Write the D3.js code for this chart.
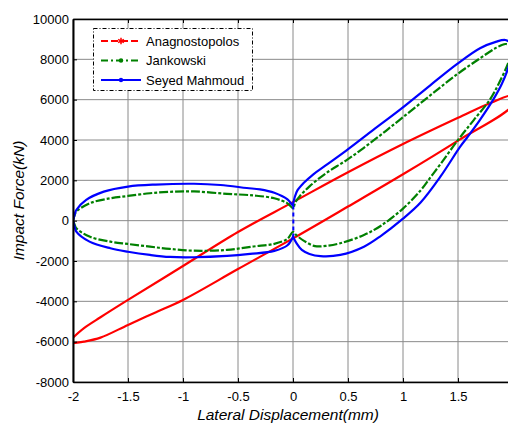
<!DOCTYPE html>
<html>
<head>
<meta charset="utf-8">
<script src="https://cdn.jsdelivr.net/npm/d3@7"></script>
<style>
  body { margin: 0; background: #fff; }
  svg { display: block; font-family: "Liberation Sans", Arial, sans-serif; }
</style>
</head>
<body>
<svg id="chart"></svg>
<script>
// tick values (the label for 2 falls outside the picture)
const xTicks = [-2, -1.5, -1, -0.5, 0, 0.5, 1, 1.5, 2];
const xTickLabels = ["-2", "-1.5", "-1", "-0.5", "0", "0.5", "1", "1.5", ""];
const yTicks = [-8000, -6000, -4000, -2000, 0, 2000, 4000, 6000, 8000, 10000];
const seriesNames = ["Anagnostopolos", "Jankowski", "Seyed Mahmoud"];

// Anagnostopolos: upper and lower branch, both read left to right
const anagUpper = [[-2,-5800],[-1.9,-5330],[-1.75,-4790],[-1.5,-3930],[-1,-2250],[-0.5,-560],[0,920],
  [0.5,2400],[1,3800],[1.5,5100],[1.8,5850],[2,6200]];
const anagLower = [[-2,-6080],[-1.9,-6000],[-1.75,-5800],[-1.5,-5170],[-1.25,-4550],[-1,-3930],[-0.5,-2400],
  [0,-880],[0.5,700],[1,2300],[1.5,3970],[2,5750]];

// Jankowski: four branches, read left to right
const jankUpperLeft = [[-2,0],[-1.985,280],[-1.97,450],[-1.85,860],[-1.66,1110],[-1.5,1225],[-1.3,1360],
  [-1.12,1430],[-0.9,1450],[-0.6,1330],[-0.36,1250],[-0.17,1110],[-0.05,860],[0,620]];
const jankUpperRight = [[0,620],[0.02,900],[0.06,1200],[0.15,1700],[0.3,2350],[0.5,3050],[0.75,4050],
  [0.97,5000],[1.245,6200],[1.49,7250],[1.7,8050],[1.85,8580],[1.93,8760],[1.97,8700],[2,8550]];
const jankLowerRight = [[0,-560],[0.03,-720],[0.1,-1000],[0.2,-1260],[0.3,-1250],[0.43,-1120],[0.645,-710],
  [0.8,-250],[1,600],[1.16,1500],[1.25,2150],[1.34,2800],[1.5,4000],[1.645,5000],[1.79,6000],
  [1.88,6900],[1.955,7800],[2,8550]];
const jankLowerLeft = [[-2,0],[-1.985,-200],[-1.97,-380],[-1.85,-790],[-1.66,-1040],[-1.5,-1155],[-1.3,-1290],
  [-1.12,-1400],[-0.9,-1490],[-0.6,-1450],[-0.36,-1280],[-0.17,-1150],[-0.05,-900],[0,-560]];

// Seyed Mahmoud: four branches, read left to right, plus the drop at x = 0
const seyedUpperLeft = [[-2,0],[-1.985,300],[-1.97,530],[-1.88,1030],[-1.72,1440],[-1.5,1690],[-1.25,1790],
  [-0.9,1830],[-0.66,1770],[-0.42,1620],[-0.3,1550],[-0.17,1380],[-0.05,1050],[0,750]];
const seyedUpperRight = [[0,800],[0.015,1150],[0.04,1500],[0.094,1850],[0.185,2300],[0.3,2750],[0.49,3500],
  [0.73,4500],[0.97,5490],[1.245,6700],[1.49,7760],[1.7,8550],[1.85,8880],[1.93,8960],[1.97,8850],[2,8650]];
const seyedLowerRight = [[0,-800],[0.03,-1100],[0.08,-1450],[0.15,-1650],[0.25,-1760],[0.43,-1700],
  [0.645,-1290],[0.8,-750],[1,100],[1.16,900],[1.34,2180],[1.52,3670],[1.58,4100],[1.7,5000],
  [1.82,6000],[1.9,6800],[1.955,7550],[2,8650]];
const seyedLowerLeft = [[-2,0],[-1.985,-300],[-1.97,-545],[-1.85,-1040],[-1.66,-1370],[-1.5,-1540],
  [-1.3,-1700],[-1.12,-1800],[-0.9,-1815],[-0.6,-1750],[-0.39,-1650],[-0.17,-1500],[-0.05,-1220],[0,-800]];
const seyedDrop = [[0.003,750],[0.003,-790]];

const colors = ["#ff0000", "#008000", "#0000ff"];

const width = 508, height = 423;
const margins = {top: 19, right: -5, bottom: 41, left: 73};

const svg = d3.select("#chart")
  .attr("width", width)
  .attr("height", height);

svg.append("rect").attr("width", width).attr("height", height).attr("fill", "#fff");

const xScale = d3.scaleLinear()
  .domain([-2, 2])
  .range([margins.left, width - margins.right]);

const yScale = d3.scaleLinear()
  .domain([-8000, 10000])
  .range([height - margins.bottom, margins.top]);

const x0 = margins.left, x1 = width - margins.right;
const y0 = height - margins.bottom, y1 = margins.top;

// grid
svg.append("g")
  .selectAll("line.vgrid")
  .data(xTicks)
  .join("line")
    .attr("x1", d => xScale(d)).attr("x2", d => xScale(d))
    .attr("y1", y0).attr("y2", y1)
    .attr("stroke", "#8a8a8a").attr("stroke-width", 1);
svg.append("g")
  .selectAll("line.hgrid")
  .data(yTicks)
  .join("line")
    .attr("x1", x0).attr("x2", x1)
    .attr("y1", d => yScale(d)).attr("y2", d => yScale(d))
    .attr("stroke", "#8a8a8a").attr("stroke-width", 1);

// curves
svg.append("defs").append("clipPath").attr("id", "plotClip")
  .append("rect").attr("x", x0).attr("y", y1).attr("width", x1 - x0).attr("height", y0 - y1);

const line = d3.line()
  .x(d => xScale(d[0]))
  .y(d => yScale(d[1]))
  .curve(d3.curveCatmullRom.alpha(0.5));

const loops = [
  {pts: anagUpper.concat(anagLower.slice().reverse()), color: colors[0], dash: null},
  {pts: jankUpperLeft.concat(jankUpperRight.slice(1), jankLowerRight.slice().reverse(), jankLowerLeft.slice().reverse().slice(1)), color: colors[1], dash: "9,2,3,2"},
  {pts: seyedUpperLeft.concat(seyedUpperRight, seyedLowerRight.slice().reverse(), seyedLowerLeft.slice().reverse()), color: colors[2], dash: null}
];

const plot = svg.append("g").attr("clip-path", "url(#plotClip)");

plot.selectAll("path.loop")
  .data(loops)
  .join("path")
    .attr("class", "loop")
    .attr("d", d => line(d.pts))
    .attr("fill", "none")
    .attr("stroke", d => d.color)
    .attr("stroke-width", 2.2)
    .attr("stroke-dasharray", d => d.dash);

plot.append("path")
  .attr("d", d3.line().x(d => xScale(d[0])).y(d => yScale(d[1]))(seyedDrop))
  .attr("fill", "none")
  .attr("stroke", colors[2])
  .attr("stroke-width", 2)
  .attr("stroke-dasharray", "4,3");

// axes
const xAxis = svg.append("g")
  .attr("transform", `translate(0,${y0})`)
  .call(d3.axisBottom(xScale).tickValues(xTicks).tickSizeInner(-4).tickSizeOuter(0)
    .tickPadding(10).tickFormat((d, i) => xTickLabels[i]));

const xTop = svg.append("g")
  .attr("transform", `translate(0,${y1})`)
  .call(d3.axisTop(xScale).tickValues(xTicks).tickSizeInner(-4).tickSizeOuter(0).tickFormat(""));

const yAxis = svg.append("g")
  .attr("transform", `translate(${x0},0)`)
  .call(d3.axisLeft(yScale).tickValues(yTicks).tickSizeInner(-4).tickSizeOuter(0)
    .tickPadding(4).tickFormat(d => String(d)));

[xAxis, xTop, yAxis].forEach(g => {
  g.selectAll("text").style("font-family", "'Liberation Sans', Arial, sans-serif")
    .style("font-size", "13px").attr("fill", "#000");
  g.selectAll("line").attr("stroke", "#000");
  g.select(".domain").attr("stroke", "#000").attr("stroke-width", 1.6);
});
yAxis.select(".domain").attr("stroke-width", 2);

// axis labels
svg.append("text")
  .attr("x", 288).attr("y", 420)
  .attr("text-anchor", "middle")
  .style("font-size", "15.5px").style("font-style", "italic")
  .text("Lateral Displacement(mm)");

svg.append("text")
  .attr("transform", `translate(24,${(y0 + y1) / 2}) rotate(-90)`)
  .attr("text-anchor", "middle")
  .style("font-size", "15.5px").style("font-style", "italic")
  .text("Impact Force(kN)");

// legend
const legend = svg.append("g");
legend.append("rect")
  .attr("x", 93.5).attr("y", 28.5).attr("width", 159).attr("height", 62)
  .attr("fill", "#fff").attr("stroke", "#000").attr("stroke-width", 1)
  .attr("stroke-dasharray", "4,2,1,2");

const legendDash = ["7,3", "7,3,2,3", null];
const items = legend.selectAll("g.item")
  .data(seriesNames)
  .join("g")
    .attr("class", "item")
    .attr("transform", (d, i) => `translate(0,${41 + i * 19.5})`);

items.append("line")
  .attr("x1", 101).attr("x2", 141)
  .attr("stroke", (d, i) => colors[i])
  .attr("stroke-width", 2)
  .attr("stroke-dasharray", (d, i) => legendDash[i]);

items.filter((d, i) => i === 0).append("path")
  .attr("transform", "translate(121,0)")
  .attr("d", d3.symbol(d3.symbolAsterisk, 30)())
  .attr("stroke", colors[0]).attr("stroke-width", 1.5).attr("fill", "none");
items.filter((d, i) => i > 0).append("circle")
  .attr("cx", 121).attr("r", 2.2)
  .attr("fill", (d, i) => colors[i + 1]);

items.append("text")
  .attr("x", 146).attr("dy", "0.35em")
  .style("font-size", "13px")
  .text(d => d);
</script>
</body>
</html>
